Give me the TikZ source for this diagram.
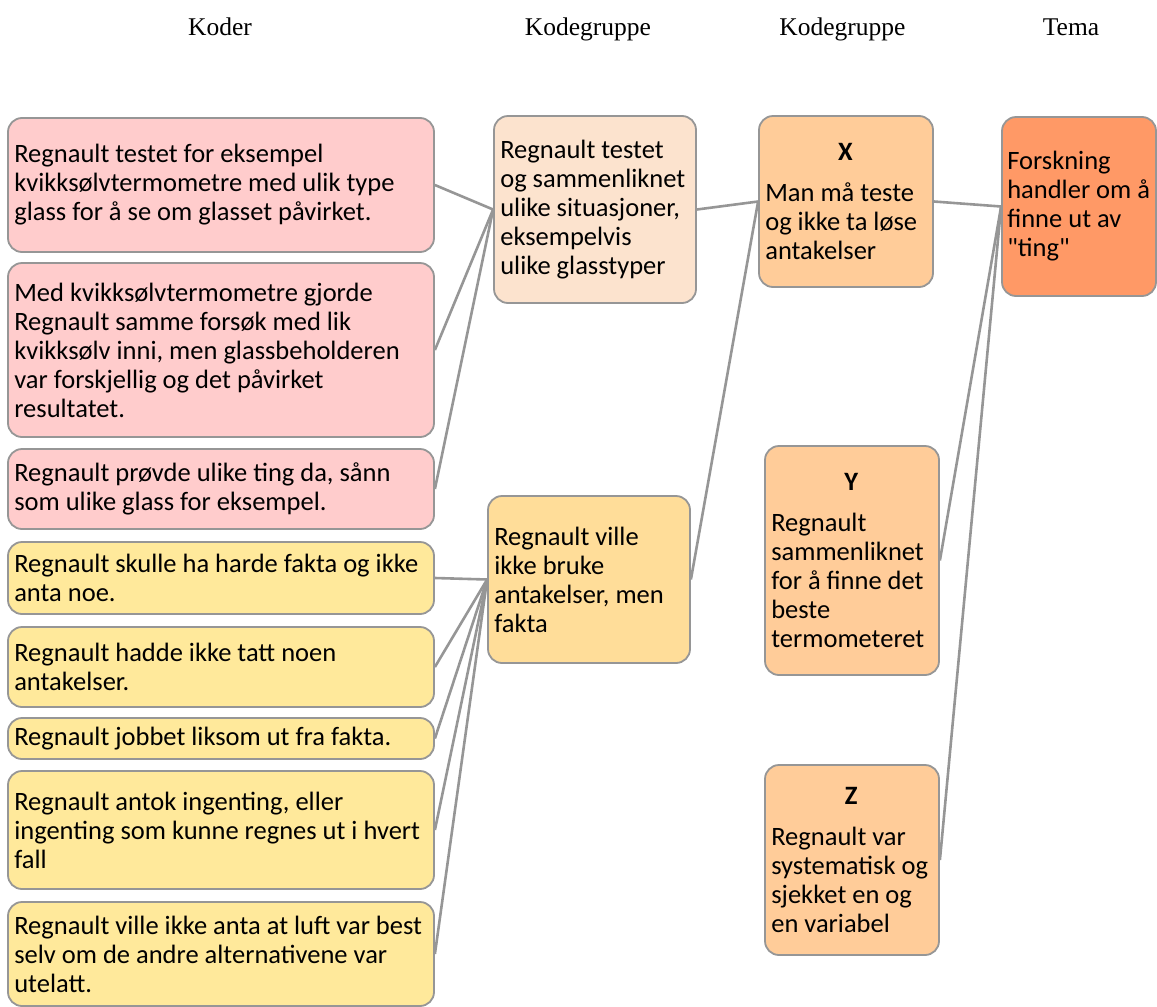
\documentclass[tikz,border=0pt]{standalone}
\usepackage{fontspec}
\setmainfont{Carlito}[Ligatures=TeXOff]
\newfontfamily\headfont{Liberation Serif}
\definecolor{pinkfill}{RGB}{255,204,204}
\definecolor{yellowfill}{RGB}{255,233,155}
\definecolor{peachlight}{RGB}{252,227,206}
\definecolor{goldfill}{RGB}{255,221,153}
\definecolor{peachfill}{RGB}{255,204,153}
\definecolor{orangefill}{RGB}{255,153,102}
\definecolor{edgegray}{RGB}{150,150,150}
\definecolor{linkgray}{RGB}{150,150,150}
\begin{document}
\begin{tikzpicture}[x=1pt,y=-1pt,
  frame/.style={draw=edgegray, line width=1.8pt, rounded corners=14pt, inner sep=0pt},
  body/.style={font=\fontsize{26.5pt}{29pt}\selectfont, align=left, inner sep=0pt, anchor=west, xshift=7pt},
  head/.style={font=\headfont\fontsize{25.5pt}{30pt}\selectfont, anchor=base},
  link/.style={draw=linkgray, line width=2.6pt}]
\useasboundingbox (0,0) rectangle (1157,1007);

% column headings
\node[head] (h1) at (220,35) {Koder};
\node[head] (h2) at (588,35) {Kodegruppe};
\node[head] (h3) at (842.5,35) {Kodegruppe};
\node[head] (h4) at (1071,35) {Tema};

% codes
\node[frame, fill=pinkfill, minimum width=426pt, minimum height=134pt] (k1) at (221,185) {};
\node[body] (k1t) at (k1.west) {Regnault testet for eksempel\\kvikksølvtermometre med ulik type\\glass for å se om glasset påvirket.};
\node[frame, fill=pinkfill, minimum width=426pt, minimum height=174pt] (k2) at (221,350) {};
\node[body] (k2t) at (k2.west) {Med kvikksølvtermometre gjorde\\Regnault samme forsøk med lik\\kvikksølv inni, men glassbeholderen\\var forskjellig og det påvirket\\resultatet.};
\node[frame, fill=pinkfill, minimum width=426pt, minimum height=80pt] (k3) at (221,489) {};
\node[body] (k3t) at (k3.west) {Regnault prøvde ulike ting da, sånn\\som ulike glass for eksempel.};
\node[frame, fill=yellowfill, minimum width=426pt, minimum height=72pt] (k4) at (221,578) {};
\node[body] (k4t) at (k4.west) {Regnault skulle ha harde fakta og ikke\\anta noe.};
\node[frame, fill=yellowfill, minimum width=426pt, minimum height=80pt] (k5) at (221,667) {};
\node[body] (k5t) at (k5.west) {Regnault hadde ikke tatt noen\\antakelser.};
\node[frame, fill=yellowfill, minimum width=426pt, minimum height=41pt] (k6) at (221,738.5) {};
\node[body] (k6t) at (k6.west) {Regnault jobbet liksom ut fra fakta.};
\node[frame, fill=yellowfill, minimum width=426pt, minimum height=118pt] (k7) at (221,830) {};
\node[body] (k7t) at (k7.west) {Regnault antok ingenting, eller\\ingenting som kunne regnes ut i hvert\\fall};
\node[frame, fill=yellowfill, minimum width=426pt, minimum height=104pt] (k8) at (221,954) {};
\node[body] (k8t) at (k8.west) {Regnault ville ikke anta at luft var best\\selv om de andre alternativene var\\utelatt.};

% code groups
\node[frame, fill=peachlight, minimum width=202pt, minimum height=187pt] (a) at (595,209.5) {};
\node[body] (at) at (a.west) {Regnault testet\\og sammenliknet\\ulike situasjoner,\\eksempelvis\\ulike glasstyper};
\node[frame, fill=goldfill, minimum width=202pt, minimum height=167pt] (b) at (589,579.5) {};
\node[body] (bt) at (b.west) {Regnault ville\\ikke bruke\\antakelser, men\\fakta};

% second level groups
\node[frame, fill=peachfill, minimum width=174pt, minimum height=171pt] (x) at (846,201.5) {};
\node[body] (xt) at (x.west) {\makebox[160pt]{\textbf{X}}\\[12pt]Man må teste\\og ikke ta løse\\antakelser};
\node[frame, fill=peachfill, minimum width=174pt, minimum height=229pt] (y) at (852,560.5) {};
\node[body] (yt) at (y.west) {\makebox[160pt]{\textbf{Y}}\\[12pt]Regnault\\sammenliknet\\for å finne det\\beste\\termometeret};
\node[frame, fill=peachfill, minimum width=174pt, minimum height=190pt] (z) at (852,860) {};
\node[body] (zt) at (z.west) {\makebox[160pt]{\textbf{Z}}\\[12pt]Regnault var\\systematisk og\\sjekket en og\\en variabel};

% theme
\node[frame, fill=orangefill, minimum width=154pt, minimum height=179pt] (t) at (1079,206.5) {};
\node[body, xshift=-1pt] (tt) at (t.west) {Forskning\\handler om å\\finne ut av\\"ting"};

% connectors
\foreach \k in {k1,k2,k3} \draw[link] (\k.east) -- (a.west);
\foreach \k in {k4,k5,k6,k7,k8} \draw[link] (\k.east) -- (b.west);
\draw[link] (a.east) -- (x.west);
\draw[link] (b.east) -- (x.west);
\foreach \k in {x,y,z} \draw[link] (\k.east) -- (t.west);
\end{tikzpicture}
\end{document}
